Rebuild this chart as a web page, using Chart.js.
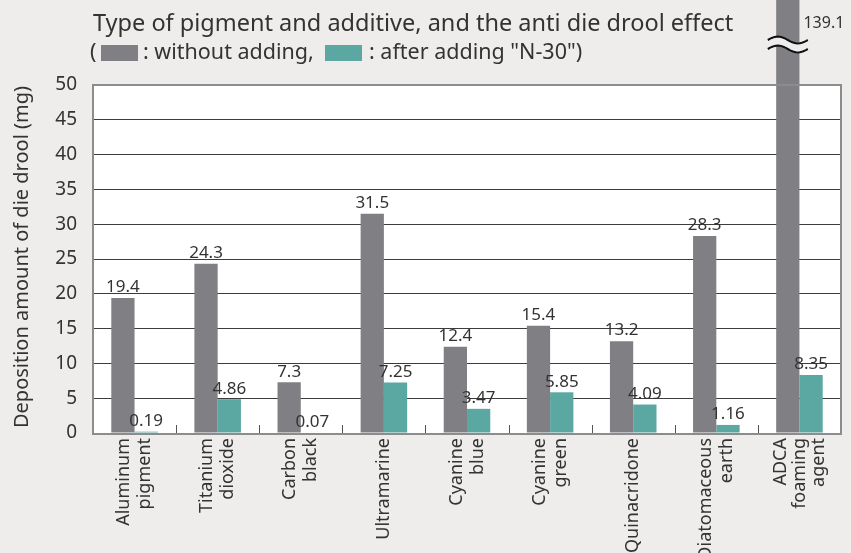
<!DOCTYPE html>
<html>
<head>
<meta charset="utf-8">
<script src="https://cdn.jsdelivr.net/npm/chart.js@4.4.1/dist/chart.umd.min.js"></script>
<style>
  html, body { margin: 0; padding: 0; background: #eeedeb; }
  #wrap { width: 851px; height: 553px; position: relative; }
</style>
</head>
<body>
<div id="wrap"><canvas id="c" width="851" height="553"></canvas></div>
<script>
const categories = [
  ["Aluminum", "pigment"],
  ["Titanium", "dioxide"],
  ["Carbon", "black"],
  ["Ultramarine"],
  ["Cyanine", "blue"],
  ["Cyanine", "green"],
  ["Quinacridone"],
  ["Diatomaceous", "earth"],
  ["ADCA", "foaming", "agent"]
];
const withoutAdding = [19.4, 24.3, 7.3, 31.5, 12.4, 15.4, 13.2, 28.3, 139.1];
const afterAdding = [0.19, 4.86, 0.07, 7.25, 3.47, 5.85, 4.09, 1.16, 8.35];
const valueLabelsWithout = ["19.4", "24.3", "7.3", "31.5", "12.4", "15.4", "13.2", "28.3", "139.1"];
const valueLabelsAfter = ["0.19", "4.86", "0.07", "7.25", "3.47", "5.85", "4.09", "1.16", "8.35"];
const yTicks = [0, 5, 10, 15, 20, 25, 30, 35, 40, 45, 50];
const titleLine1 = "Type of pigment and additive, and the anti die drool effect";
const legendText1 = ": without adding,";
const legendText2 = ": after adding \"N-30\")";
const yTitle = "Deposition amount of die drool (mg)";

const GRAY = "#807f83";
const TEAL = "#5aa8a1";
const BG = "#eeedeb";
const TXT = "#333333";
const FONT = "'Noto Sans', 'Open Sans', sans-serif";

const decorPlugin = {
  id: 'decor',
  beforeDraw(chart) {
    const { ctx, chartArea: a } = chart;
    ctx.save();
    ctx.fillStyle = BG;
    ctx.fillRect(0, 0, chart.width, chart.height);
    ctx.fillStyle = '#ffffff';
    ctx.fillRect(a.left, a.top, a.right - a.left, a.bottom - a.top);
    ctx.restore();
  },
  afterDatasetsDraw(chart) {
    const { ctx, chartArea: a, scales } = chart;
    const x = scales.x, y = scales.y;
    ctx.save();
    // inner tick marks at category boundaries
    ctx.strokeStyle = '#555';
    ctx.lineWidth = 1;
    for (let i = 0; i < categories.length - 1; i++) {
      const bx = Math.round((x.getPixelForValue(i) + x.getPixelForValue(i + 1)) / 2) + 0.5;
      ctx.beginPath();
      ctx.moveTo(bx, a.bottom);
      ctx.lineTo(bx, a.bottom - 8);
      ctx.stroke();
    }
    // border
    ctx.strokeStyle = '#8c8c8c';
    ctx.lineWidth = 2;
    ctx.strokeRect(a.left, a.top, a.right - a.left, a.bottom - a.top + 1);

    // category labels (rotated)
    ctx.fillStyle = TXT;
    ctx.font = "18px " + FONT;
    ctx.textAlign = 'right';
    ctx.textBaseline = 'middle';
    categories.forEach((lines, i) => {
      const cx = x.getPixelForValue(i);
      const n = lines.length;
      const pitch = n > 2 ? 19 : 21;
      lines.forEach((ln, j) => {
        ctx.save();
        ctx.translate(cx + (j - (n - 1) / 2) * pitch, a.bottom + 5);
        ctx.rotate(-Math.PI / 2);
        ctx.fillText(ln, 0, 0);
        ctx.restore();
      });
    });

    // value labels
    ctx.fillStyle = TXT;
    ctx.font = "17px " + FONT;
    ctx.textAlign = 'center';
    ctx.textBaseline = 'bottom';
    const m0 = chart.getDatasetMeta(0), m1 = chart.getDatasetMeta(1);
    m0.data.forEach((bar, i) => {
      if (withoutAdding[i] > y.max) {
        ctx.textAlign = 'left';
        ctx.font = "16px " + FONT;
        ctx.fillText(valueLabelsWithout[i], bar.x + bar.width / 2 + 4, 31);
        ctx.textAlign = 'center';
        ctx.font = "17px " + FONT;
        // break mark
        const cx = bar.x, w = 20;
        const wave = (y0) => {
          ctx.moveTo(cx - w, y0);
          for (let t = 0; t <= 1.0001; t += 0.05) {
            ctx.lineTo(cx - w + 2 * w * t, y0 - 3.5 * Math.sin(2 * Math.PI * t));
          }
        };
        ctx.beginPath();
        const yA = 40, yB = 49;
        ctx.moveTo(cx - w, yA);
        for (let t = 0; t <= 1.0001; t += 0.05) ctx.lineTo(cx - w + 2 * w * t, yA - 3.5 * Math.sin(2 * Math.PI * t));
        for (let t = 1; t >= -0.0001; t -= 0.05) ctx.lineTo(cx - w + 2 * w * t, yB - 3.5 * Math.sin(2 * Math.PI * t));
        ctx.closePath();
        ctx.fillStyle = BG;
        ctx.fill();
        ctx.fillStyle = TXT;
        ctx.strokeStyle = '#111';
        ctx.lineWidth = 2;
        ctx.beginPath(); wave(yA); ctx.stroke();
        ctx.beginPath(); wave(yB); ctx.stroke();
      } else {
        ctx.fillText(valueLabelsWithout[i], bar.x, bar.y - 2);
      }
    });
    m1.data.forEach((bar, i) => {
      ctx.fillText(valueLabelsAfter[i], bar.x, bar.y - 2);
    });

    // y axis title
    ctx.save();
    ctx.translate(22, 257);
    ctx.rotate(-Math.PI / 2);
    ctx.font = "20px " + FONT;
    ctx.textAlign = 'center';
    ctx.textBaseline = 'middle';
    ctx.fillText(yTitle, 0, 0);
    ctx.restore();

    // title & legend line
    ctx.font = "23.5px " + FONT;
    ctx.textAlign = 'left';
    ctx.textBaseline = 'alphabetic';
    ctx.fillStyle = TXT;
    ctx.fillText(titleLine1, 93, 31);
    ctx.font = "21.5px " + FONT;
    ctx.fillText("(", 90, 59);
    ctx.fillStyle = GRAY;
    ctx.fillRect(101, 45, 37, 16);
    ctx.fillStyle = TXT;
    ctx.fillText(legendText1, 143, 59);
    ctx.fillStyle = TEAL;
    ctx.fillRect(325, 45, 37, 16);
    ctx.fillStyle = TXT;
    ctx.fillText(legendText2, 369, 59);
    ctx.restore();
  }
};

new Chart(document.getElementById('c'), {
  type: 'bar',
  data: {
    labels: categories.map(l => l.join(' ')),
    datasets: [
      { label: 'without adding', data: withoutAdding, backgroundColor: GRAY, clip: false,
        categoryPercentage: 0.56, barPercentage: 1.0 },
      { label: 'after adding "N-30"', data: afterAdding, backgroundColor: TEAL,
        categoryPercentage: 0.56, barPercentage: 1.0 }
    ]
  },
  options: {
    responsive: false,
    animation: false,
    layout: { padding: { top: 85, right: 10, left: 0, bottom: 0 } },
    plugins: { legend: { display: false }, tooltip: { enabled: false } },
    scales: {
      x: {
        grid: { display: false, drawTicks: false },
        border: { display: false },
        ticks: { display: false },
        afterFit(s) { s.height = 120; s.paddingLeft = 0; s.paddingRight = 0; }
      },
      y: {
        min: 0, max: 50,
        afterBuildTicks(s) { s.ticks = yTicks.map(v => ({ value: v })); },
        grid: {
          drawTicks: false,
          color: (c) => (c.tick && (c.tick.value === 0 || c.tick.value === 50)) ? 'rgba(0,0,0,0)' : '#3c3c3c',
          lineWidth: 1
        },
        border: { display: false },
        ticks: { padding: 16, color: TXT, font: { family: FONT, size: 19 } },
        afterFit(s) { s.width = 93; s.paddingTop = 0; s.paddingBottom = 0; }
      }
    }
  },
  plugins: [decorPlugin]
});
</script>
</body>
</html>
